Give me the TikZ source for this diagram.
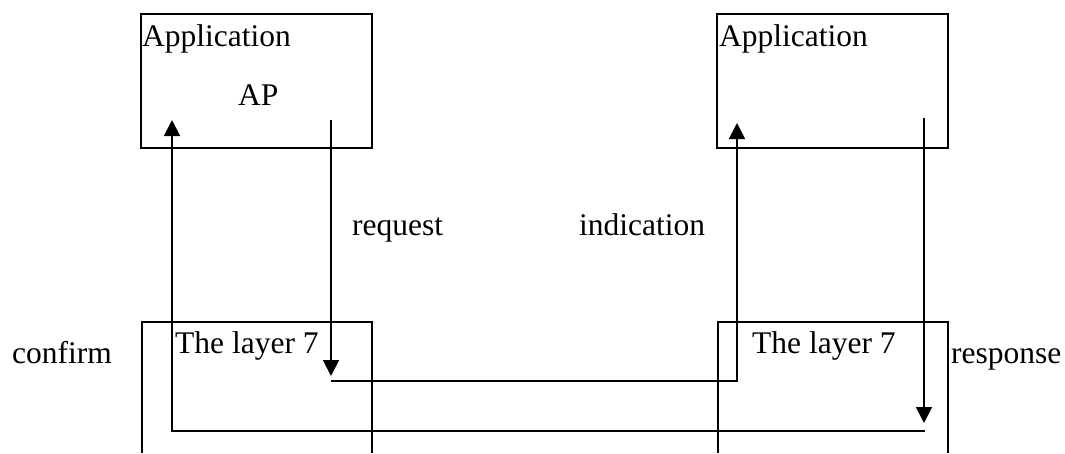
\documentclass[tikz,border=0pt]{standalone}
\usepackage{fontspec}
\setmainfont{Liberation Serif}
\usetikzlibrary{arrows.meta}
\begin{document}
\begin{tikzpicture}[x=1pt,y=-1pt,
  line/.style={line width=1.8pt},
  arr/.style={line, -{Triangle[width=16pt,length=16pt]}},
  box/.style={draw, line width=1.8pt, rectangle, inner sep=0pt},
  lbl/.style={anchor=base west, inner sep=0pt, font=\fontsize{31.5}{36}\selectfont}]
\useasboundingbox (0,0) rectangle (1065,453);
% application boxes
\node[box, minimum width=231pt, minimum height=134pt] (appL) at (256.5,81) {};
\node[box, minimum width=231pt, minimum height=134pt] (appR) at (832.5,81) {};
% layer 7 boxes (open at the bottom)
\coordinate (l7La) at (142,453);
\coordinate (l7Lb) at (142,322);
\coordinate (l7Lc) at (372,322);
\coordinate (l7Ld) at (372,453);
\draw[line] (l7La) -- (l7Lb) -- (l7Lc) -- (l7Ld);
\coordinate (l7Ra) at (718,453);
\coordinate (l7Rb) at (718,322);
\coordinate (l7Rc) at (948,322);
\coordinate (l7Rd) at (948,453);
\draw[line] (l7Ra) -- (l7Rb) -- (l7Rc) -- (l7Rd);
% texts
\node[lbl] (tAppL) at (142,46) {Application};
\node[lbl] (tAP) at (238,105) {AP};
\node[lbl] (tAppR) at (719,46) {Application};
\node[lbl] (tReq) at (352,235) {request};
\node[lbl] (tInd) at (579,235) {indication};
\node[lbl] (tConf) at (12,363) {confirm};
\node[lbl] (tL7L) at (175,353) {The layer 7};
\node[lbl] (tL7R) at (752,353) {The layer 7};
\node[lbl] (tResp) at (951,363) {response};
% connectors
\coordinate (reqS) at (331,120);
\coordinate (reqE) at (331,376);
\coordinate (midS) at (331,381);
\coordinate (midC) at (737,381);
\coordinate (indE) at (737,123);
\coordinate (respS) at (924,118);
\coordinate (respE) at (924,423);
\coordinate (botS) at (925,431);
\coordinate (botC) at (172,431);
\coordinate (confE) at (172,120);
\draw[arr] (reqS) -- (reqE);
\draw[arr] (midS) -- (midC) -- (indE);
\draw[arr] (respS) -- (respE);
\draw[arr] (botS) -- (botC) -- (confE);
\end{tikzpicture}
\end{document}
